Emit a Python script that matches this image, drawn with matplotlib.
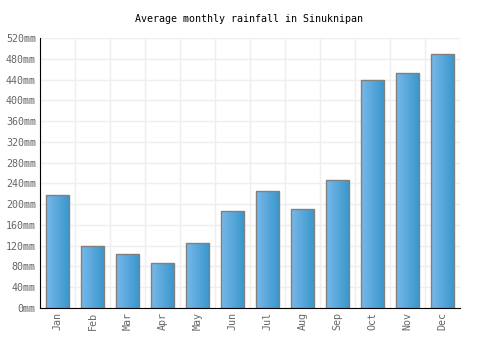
import matplotlib
matplotlib.use("Agg")
import matplotlib.pyplot as plt
import numpy as np
from matplotlib.colors import LinearSegmentedColormap
from matplotlib.ticker import MultipleLocator, FuncFormatter

months = ["Jan", "Feb", "Mar", "Apr", "May", "Jun",
          "Jul", "Aug", "Sep", "Oct", "Nov", "Dec"]
rainfall = [218, 119, 104, 86, 125, 187, 225, 191, 247, 440, 452, 490]

plt.rcParams['font.family'] = 'DejaVu Sans Mono'

fig = plt.figure(figsize=(5, 3.5), dpi=100)
ax = fig.add_axes([0.08, 0.12, 0.84, 0.7714])

x = np.arange(len(months))
bars = ax.bar(x, rainfall, width=0.66, facecolor='none',
              edgecolor='#808080', linewidth=1, zorder=3)

cmap = LinearSegmentedColormap.from_list('bar', ['#78b8ea', '#3896cb'])
grad = np.linspace(0, 1, 64).reshape(1, -1)
for b in bars:
    x0, y0 = b.get_x(), b.get_y()
    w, h = b.get_width(), b.get_height()
    im = ax.imshow(grad, cmap=cmap, aspect='auto', zorder=2,
                   extent=[x0, x0 + w, y0, y0 + h], interpolation='bilinear')
    im.set_clip_path(b)

ax.set_xlim(-0.5, 11.5)
ax.set_ylim(0, 520)
ax.yaxis.set_major_locator(MultipleLocator(40))
ax.yaxis.set_major_formatter(FuncFormatter(lambda v, p: f"{int(v)}mm"))
ax.set_xticks(x)
ax.set_xticklabels(months, rotation=90)
ax.set_xticks(np.arange(-0.5, 12, 1), minor=True)

ax.grid(True, axis='y', which='major', color='#eeeeee', linewidth=1, zorder=0)
ax.grid(True, axis='x', which='minor', color='#eeeeee', linewidth=1, zorder=0)
ax.tick_params(axis='both', which='both', length=0, labelsize=7.2,
               labelcolor='#666666', pad=3)

for s in ['top', 'right']:
    ax.spines[s].set_visible(False)
ax.spines['left'].set_color('black')
ax.spines['bottom'].set_color('black')
ax.spines['left'].set_zorder(4)
ax.spines['bottom'].set_zorder(4)

fig.text(0.498, 0.945, "Average monthly rainfall in Sinuknipan",
         ha='center', va='center', fontsize=7.2, color='black')

fig.savefig("out.png", dpi=100)
